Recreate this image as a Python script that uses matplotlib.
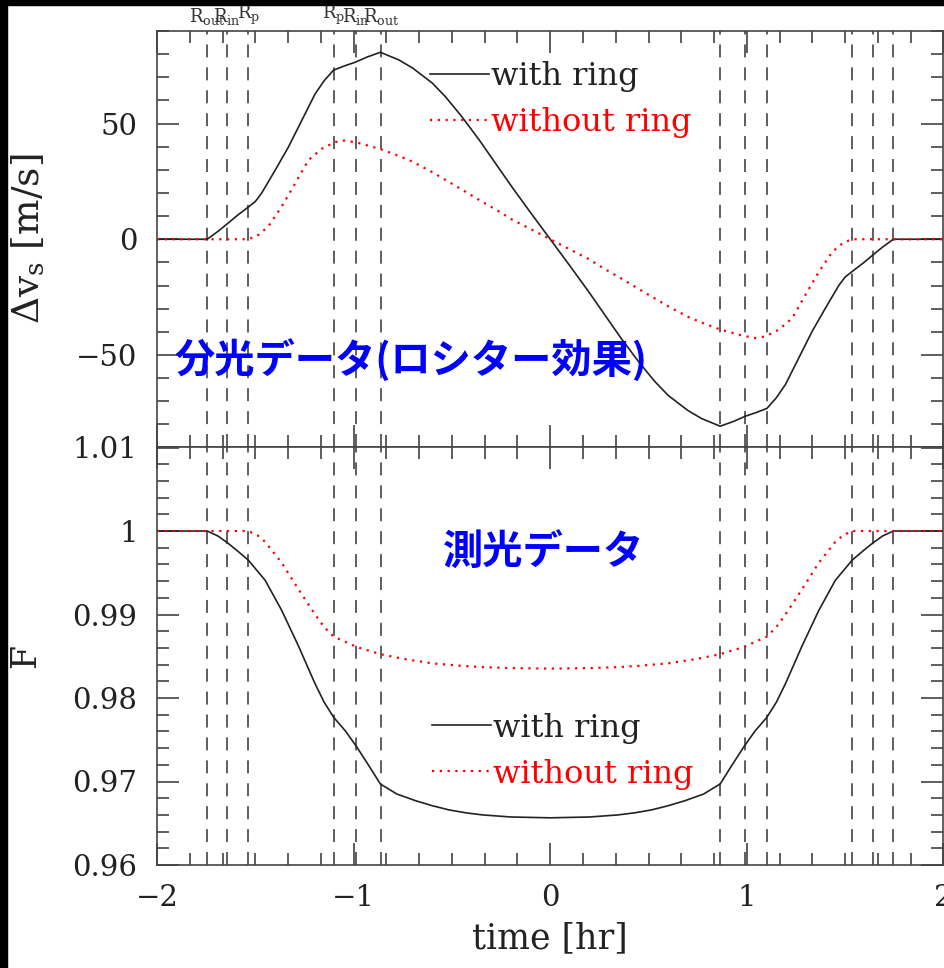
import numpy as np
import matplotlib
matplotlib.use('Agg')
import matplotlib.pyplot as plt
from matplotlib.ticker import MultipleLocator, FuncFormatter
from matplotlib.patches import Rectangle

plt.rcParams['font.family'] = ['DejaVu Serif']
plt.rcParams['mathtext.fontset'] = 'dejavuserif'

# contact times (R_out, R_in, R_p on each side)
contacts = [-1.745, -1.643, -1.536, -1.102, -0.988, -0.862,
            0.862, 0.988, 1.102, 1.536, 1.643, 1.745]
contact_labels = [r'$\mathrm{R_{out}}$', r'$\mathrm{R_{in}}$', r'$\mathrm{R_p}$',
                  r'$\mathrm{R_p}$', r'$\mathrm{R_{in}}$', r'$\mathrm{R_{out}}$']

# RM velocity anomaly [m/s]
t_rv = [-2.0, -1.745, -1.69, -1.638, -1.59, -1.536, -1.50, -1.468, -1.40, -1.332, -1.264,
        -1.196, -1.15, -1.102, -1.05, -0.992, -0.93, -0.864, -0.77, -0.70, -0.60,
        -0.532, -0.45, -0.362, -0.28, -0.194, -0.10, 0.0, 0.10, 0.194, 0.28,
        0.362, 0.45, 0.532, 0.60, 0.70, 0.77, 0.864, 0.93, 0.992, 1.05,
        1.102, 1.15, 1.196, 1.264, 1.332, 1.40, 1.468, 1.50, 1.536, 1.59, 1.638,
        1.69, 1.745, 2.0]
dv_ring = [0, 0, 3.4, 7.0, 10.4, 13.9, 16.3, 19.9, 29.7, 39.8, 51.3,
           62.8, 68.5, 73.1, 74.8, 76.5, 78.8, 80.8, 77.5, 74.0, 67.5,
           61.5, 53.0, 43.0, 33.0, 22.5, 11.5, 0.0, -11.5, -22.5, -33.0,
           -43.0, -53.0, -61.5, -67.5, -74.0, -77.5, -80.8, -78.8, -76.5, -74.8,
           -73.1, -68.5, -62.8, -51.3, -39.8, -29.7, -19.9, -16.3, -13.9, -10.4, -7.0,
           -3.4, 0, 0]

t_rv0 = [-2.0, -1.536, -1.49, -1.434, -1.366, -1.298, -1.23, -1.162, -1.094, -1.043,
         -0.975, -0.864, -0.77, -0.70, -0.60, -0.532, -0.45, -0.362, -0.28, -0.194,
         -0.10, 0.0, 0.10, 0.194, 0.28, 0.362, 0.45, 0.532, 0.60, 0.70,
         0.77, 0.864, 0.975, 1.043, 1.094, 1.162, 1.23, 1.298, 1.366, 1.434,
         1.49, 1.536, 2.0]
dv_noring = [0, 0, 1.5, 5.5, 14.1, 24.0, 34.2, 39.1, 42.0, 42.7,
             41.6, 39.0, 36.0, 33.5, 29.0, 25.6, 21.5, 17.0, 13.0, 8.5,
             4.4, 0.0, -4.4, -8.5, -13.0, -17.0, -21.5, -25.6, -29.0, -33.5,
             -36.0, -39.0, -41.6, -42.7, -42.0, -39.1, -34.2, -24.0, -14.1, -5.5,
             -1.5, 0, 0]

# light curve
t_lc = [-2.0, -1.745, -1.69, -1.638, -1.59, -1.536, -1.45, -1.366, -1.28, -1.196,
        -1.15, -1.102, -1.04, -0.983, -0.92, -0.864, -0.78, -0.685, -0.60, -0.515,
        -0.43, -0.345, -0.20, 0.0, 0.20, 0.345, 0.43, 0.515, 0.60, 0.685,
        0.78, 0.864, 0.92, 0.983, 1.04, 1.102, 1.15, 1.196, 1.28, 1.366,
        1.45, 1.536, 1.59, 1.638, 1.69, 1.745, 2.0]
f_ring = [1.0, 1.0, 0.9994, 0.99852, 0.9976, 0.99652, 0.9941, 0.9905, 0.9862, 0.9817,
          0.9795, 0.9777, 0.9760, 0.9741, 0.9718, 0.9697, 0.9685, 0.9677, 0.9671, 0.9666,
          0.96625, 0.9660, 0.96575, 0.96565, 0.96575, 0.9660, 0.96625, 0.9666, 0.9671, 0.9677,
          0.9685, 0.9697, 0.9718, 0.9741, 0.9760, 0.9777, 0.9795, 0.9817, 0.9862, 0.9905,
          0.9941, 0.99652, 0.9976, 0.99852, 0.9994, 1.0, 1.0]

t_lc0 = [-2.0, -1.536, -1.49, -1.45, -1.366, -1.28, -1.196, -1.15, -1.102, -1.04,
         -0.983, -0.92, -0.864, -0.75, -0.60, -0.45, -0.345, -0.20, 0.0, 0.20,
         0.345, 0.45, 0.60, 0.75, 0.864, 0.92, 0.983, 1.04, 1.102, 1.15,
         1.196, 1.28, 1.366, 1.45, 1.49, 1.536, 2.0]
f_noring = [1.0, 1.0, 0.9995, 0.9987, 0.9962, 0.9930, 0.9900, 0.9885, 0.98735, 0.9867,
            0.9861, 0.98565, 0.98525, 0.9847, 0.98415, 0.98385, 0.9837, 0.98358, 0.98352, 0.98358,
            0.9837, 0.98385, 0.98415, 0.9847, 0.98525, 0.98565, 0.9861, 0.9867, 0.98735, 0.9885,
            0.9900, 0.9930, 0.9962, 0.9987, 0.9995, 1.0, 1.0]

W, H = 945, 968
fig = plt.figure(figsize=(W / 100, H / 100), dpi=100)


def box(l, t, r, b):
    return [l / W, 1 - b / H, (r - l) / W, (b - t) / H]


ax1 = fig.add_axes(box(157, 31, 943.5, 447.5))
ax2 = fig.add_axes(box(157, 447.5, 943.5, 865), sharex=ax1)

fmt = FuncFormatter(lambda v, p: ('%g' % round(v, 4)).replace('-', '\u2212'))
for ax in (ax1, ax2):
    ax.tick_params(which='both', direction='in', top=True, right=True,
                   color='#333333', width=1.1, labelsize=21, pad=14, labelcolor='#222222')
    ax.tick_params(which='major', length=16)
    ax.tick_params(which='minor', length=8.5)
    ax.xaxis.set_major_locator(MultipleLocator(1))
    ax.xaxis.set_minor_locator(MultipleLocator(1 / 6))
    ax.xaxis.set_major_formatter(fmt)
    ax.yaxis.set_major_formatter(fmt)
    for s in ax.spines.values():
        s.set_color('#444444')
        s.set_linewidth(1.2)
    for x in contacts:
        ax.axvline(x, color='#333333', lw=1.1, ls=(0, (8.5, 6.5)))

ax1.set_xlim(-2, 2)
ax1.set_ylim(-90, 90)
ax1.yaxis.set_major_locator(MultipleLocator(50))
ax1.yaxis.set_minor_locator(MultipleLocator(10))
ax1.tick_params(labelbottom=False)

ax2.set_ylim(0.96, 1.01)
ax2.yaxis.set_major_locator(MultipleLocator(0.01))
ax2.yaxis.set_minor_locator(MultipleLocator(0.002))

ax1.plot(t_rv, dv_ring, color='#222222', lw=1.2, label='with ring')
ax1.plot(t_rv0, dv_noring, color='red', lw=1.6, ls=(0, (1, 2.5)), label='without ring')
ax2.plot(t_lc, f_ring, color='#222222', lw=1.2, label='with ring')
ax2.plot(t_lc0, f_noring, color='red', lw=1.6, ls=(0, (1, 2.5)), label='without ring')

for x, lab in zip(contacts[:6], contact_labels):
    ax1.annotate(lab, xy=(x, 1), xycoords=('data', 'axes fraction'), xytext=(0, 3),
                 textcoords='offset points', ha='center', va='bottom', fontsize=13, color='#333333')

leg_kw = dict(loc='upper left', frameon=False, fontsize=23, handlelength=1.85,
              handletextpad=0.05, labelspacing=0.47, borderpad=0, borderaxespad=0,
              labelcolor=['#222222', 'red'])
ax1.legend(bbox_to_anchor=(0.347, 0.928), **leg_kw)
ax2.legend(bbox_to_anchor=(0.35, 0.365), **leg_kw)

ax1.set_ylabel(r'$\Delta\mathrm{v_s}$ [m/s]', fontsize=27, color='#222222')
ax1.yaxis.set_label_coords((47 - 157) / 786.5, 0.5)
ax2.set_ylabel('F', fontsize=25, color='#222222')
ax2.yaxis.set_label_coords((42 - 157) / 786.5, 0.5)
ax2.set_xlabel('time [hr]', fontsize=25, color='#222222')
ax2.xaxis.set_label_coords(0.5, (865 - 921) / 417.5)

jp = ['Noto Sans CJK JP', 'DejaVu Sans']
fig.text(175 / W, 1 - 361 / H, '分光データ(ロシター効果)', fontsize=29, color='blue',
         fontweight='bold', family=jp, ha='left', va='center')
fig.text(443 / W, 1 - 553 / H, '測光データ', fontsize=29, color='blue',
         fontweight='bold', family=jp, ha='left', va='center')

fig.patches.append(Rectangle((0, 1 - 5 / H), 1, 5 / H, transform=fig.transFigure,
                             color='black', zorder=10))
fig.patches.append(Rectangle((0, 0), 7 / W, 1, transform=fig.transFigure,
                             color='black', zorder=10))

fig.savefig('out.png', dpi=100)
